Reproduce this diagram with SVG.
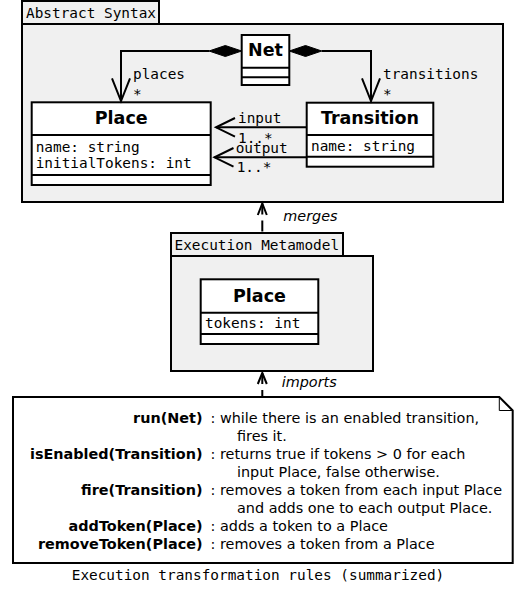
<svg xmlns="http://www.w3.org/2000/svg" width="515" height="590" viewBox="0 0 515 590">
<style>
.pkg{fill:#f0f0f0;stroke:#000;stroke-width:2}
.tab{fill:#f0f0f0;stroke:#000;stroke-width:2}
.cls{fill:#fff;stroke:#000;stroke-width:2}
.sep{stroke:#000;stroke-width:2;fill:none}
.mono{font-family:"DejaVu Sans Mono","Liberation Mono",monospace;font-size:14.4px;fill:#000}
.title{font-family:"DejaVu Sans","Liberation Sans",sans-serif;font-size:17.5px;font-weight:bold;text-anchor:middle;fill:#000}
.ital{font-family:"DejaVu Sans","Liberation Sans",sans-serif;font-size:14.4px;font-style:italic;fill:#000}
.sans{font-family:"DejaVu Sans","Liberation Sans",sans-serif;font-size:14.4px;fill:#000}
.bold{font-weight:bold;text-anchor:end}
.line{stroke:#000;stroke-width:2;fill:none}
.dash{stroke:#000;stroke-width:2;fill:none;stroke-dasharray:11,6}
.dia{fill:#000;stroke:#000;stroke-width:1}
</style>

<g id="abstract-syntax">
  <rect class="tab" x="22" y="1" width="137" height="23"/>
  <rect class="pkg" x="22" y="24" width="481" height="178"/>
  <text class="mono" x="26" y="17.5">Abstract Syntax</text>
</g>

<g id="execution-metamodel">
  <rect class="tab" x="171" y="233" width="172" height="23"/>
  <rect class="pkg" x="171" y="256" width="202" height="115"/>
  <text class="mono" x="174.5" y="250">Execution Metamodel</text>
</g>

<g id="net">
  <rect class="cls" x="241.7" y="35" width="47.6" height="50"/>
  <line class="sep" x1="241.7" y1="67.7" x2="289.3" y2="67.7"/>
  <line class="sep" x1="241.7" y1="77.3" x2="289.3" y2="77.3"/>
  <text class="title" x="265.5" y="56">Net</text>
</g>

<g id="place">
  <rect class="cls" x="31.7" y="102.3" width="179" height="82.7"/>
  <line class="sep" x1="31.7" y1="135" x2="210.7" y2="135"/>
  <line class="sep" x1="31.7" y1="175" x2="210.7" y2="175"/>
  <text class="title" x="121.2" y="124.3">Place</text>
  <text class="mono" x="35.7" y="151.5">name: string</text>
  <text class="mono" x="35.7" y="168.3">initialTokens: int</text>
</g>

<g id="transition">
  <rect class="cls" x="306.7" y="102.7" width="126.6" height="64"/>
  <line class="sep" x1="306.7" y1="135" x2="433.3" y2="135"/>
  <line class="sep" x1="306.7" y1="156.7" x2="433.3" y2="156.7"/>
  <text class="title" x="370" y="124.3">Transition</text>
  <text class="mono" x="311" y="151">name: string</text>
</g>

<g id="exec-place">
  <rect class="cls" x="200.7" y="279.3" width="117.6" height="64.7"/>
  <line class="sep" x1="200.7" y1="312.7" x2="318.3" y2="312.7"/>
  <line class="sep" x1="200.7" y1="334" x2="318.3" y2="334"/>
  <text class="title" x="259.5" y="301.7">Place</text>
  <text class="mono" x="205" y="328.3">tokens: int</text>
</g>

<g id="rules-note">
  <path d="M13,397 L499.3,397 L512.7,410.5 L512.7,563 L13,563 Z" fill="#fff" stroke="#000" stroke-width="2"/>
  <path d="M499.3,397 L499.3,410.5 L512.7,410.5" fill="none" stroke="#000" stroke-width="1"/>
  <g class="sans">
    <text class="sans bold" x="202.5" y="423">run(Net)</text>
    <text class="sans" x="210.5" y="423">: while there is an enabled transition,</text>
    <text class="sans" x="237" y="441">fires it.</text>
    <text class="sans bold" x="202.5" y="459">isEnabled(Transition)</text>
    <text class="sans" x="210.5" y="459">: returns true if tokens &gt; 0 for each</text>
    <text class="sans" x="237" y="477">input Place, false otherwise.</text>
    <text class="sans bold" x="202.5" y="495">fire(Transition)</text>
    <text class="sans" x="210.5" y="495">: removes a token from each input Place</text>
    <text class="sans" x="237" y="513">and adds one to each output Place.</text>
    <text class="sans bold" x="202.5" y="531">addToken(Place)</text>
    <text class="sans" x="210.5" y="531">: adds a token to a Place</text>
    <text class="sans bold" x="202.5" y="549">removeToken(Place)</text>
    <text class="sans" x="210.5" y="549">: removes a token from a Place</text>
  </g>
</g>

<g id="caption">
  <text class="mono" x="258" y="580" text-anchor="middle">Execution transformation rules (summarized)</text>
</g>

<g id="connectors">
  <!-- Net -> places -->
  <path class="line" d="M209,51 L121,51 L121,101.5"/>
  <path class="dia" d="M241.7,51 L225.3,45.5 L209,51 L225.3,56.5 Z"/>
  <path class="line" d="M112,78.3 L121,101 L130,78.3"/>
  <text class="mono" x="133" y="79">places</text>
  <text class="mono" x="133" y="98.5">*</text>
  <!-- Net -> transitions -->
  <path class="line" d="M321.7,51 L371,51 L371,101.5"/>
  <path class="dia" d="M289.3,51 L305.5,45.5 L321.7,51 L305.5,56.5 Z"/>
  <path class="line" d="M362,78.3 L371,101 L380,78.3"/>
  <text class="mono" x="383" y="79">transitions</text>
  <text class="mono" x="383" y="98.5">*</text>
  <!-- input -->
  <path class="line" d="M306.7,127.3 L216,127.3"/>
  <path class="line" d="M235,118 L216,127.3 L235,136.6"/>
  <text class="mono" x="238" y="122.7">input</text>
  <text class="mono" x="238" y="142.7">1..*</text>
  <!-- output -->
  <path class="line" d="M306.7,157.3 L214.5,157.3"/>
  <path class="line" d="M233.5,148 L214.5,157.3 L233.5,166.6"/>
  <text class="mono" x="235.7" y="153.3">output</text>
  <text class="mono" x="236.7" y="171.7">1..*</text>
  <!-- merges -->
  <path class="dash" d="M262.3,203.5 L262.3,233"/>
  <path class="line" d="M257.8,215 L262.3,203.5 L266.8,215"/>
  <text class="ital" x="283.3" y="220.7">merges</text>
  <!-- imports -->
  <path class="dash" d="M262.3,373 L262.3,397"/>
  <path class="line" d="M257.8,384 L262.3,373 L266.8,384"/>
  <text class="ital" x="281.7" y="386.7">imports</text>
</g>
</svg>
